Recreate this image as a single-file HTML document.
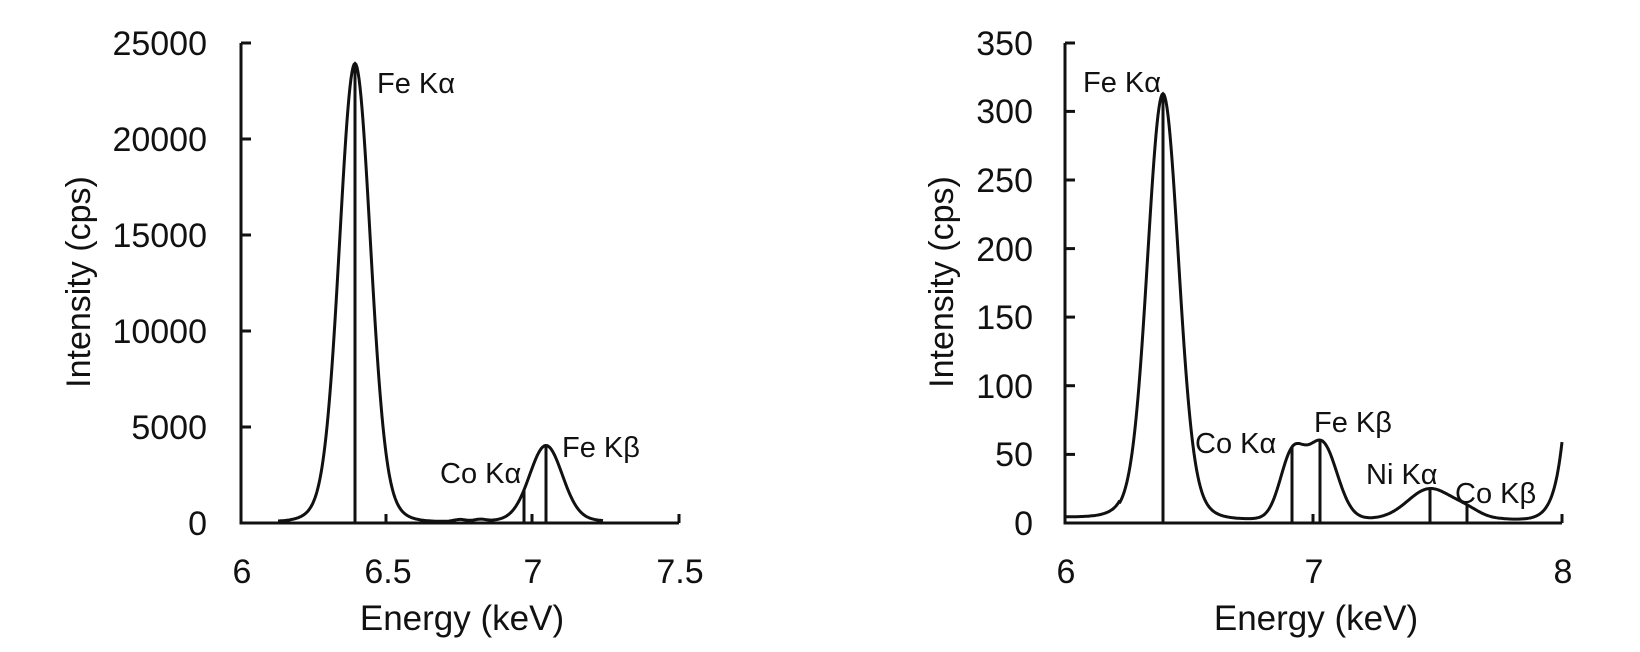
<!DOCTYPE html>
<html><head><meta charset="utf-8">
<style>
html,body{margin:0;padding:0;background:#fff;}
svg{display:block;}
text{font-family:"Liberation Sans",Arial,sans-serif;fill:#111;}
</style></head>
<body>
<svg id="s" width="1640" height="652" viewBox="0 0 1640 652" xmlns="http://www.w3.org/2000/svg">
<g stroke="#111" stroke-width="3" fill="none" id="axes">
<polyline points="241,43 241,523 679,523"/>
<line x1="241" y1="43" x2="251" y2="43"/>
<line x1="241" y1="139" x2="251" y2="139"/>
<line x1="241" y1="235" x2="251" y2="235"/>
<line x1="241" y1="331" x2="251" y2="331"/>
<line x1="241" y1="427" x2="251" y2="427"/>
<line x1="386" y1="523" x2="386" y2="514"/>
<line x1="532" y1="523" x2="532" y2="514"/>
<line x1="679" y1="523" x2="679" y2="514"/>
<polyline points="1065,43 1065,523 1562,523"/>
<line x1="1065" y1="111.4" x2="1075" y2="111.4"/>
<line x1="1065" y1="180" x2="1075" y2="180"/>
<line x1="1065" y1="248.6" x2="1075" y2="248.6"/>
<line x1="1065" y1="317.1" x2="1075" y2="317.1"/>
<line x1="1065" y1="385.7" x2="1075" y2="385.7"/>
<line x1="1065" y1="454.4" x2="1075" y2="454.4"/>
<line x1="1065" y1="43" x2="1075" y2="43"/>
<line x1="1313" y1="523" x2="1313" y2="514"/>
<line x1="1562" y1="523" x2="1562" y2="514"/>
</g>
<g font-size="34" text-anchor="end">
<text x="207" y="55">25000</text>
<text x="207" y="151">20000</text>
<text x="207" y="247">15000</text>
<text x="207" y="343">10000</text>
<text x="207" y="439">5000</text>
<text x="207" y="535">0</text>
<text x="1033" y="55">350</text>
<text x="1033" y="123">300</text>
<text x="1033" y="192">250</text>
<text x="1033" y="261">200</text>
<text x="1033" y="329">150</text>
<text x="1033" y="398">100</text>
<text x="1033" y="466">50</text>
<text x="1033" y="535">0</text>
</g>
<g font-size="34" text-anchor="middle">
<text x="242" y="583">6</text>
<text x="388" y="583">6.5</text>
<text x="533" y="583">7</text>
<text x="680" y="583">7.5</text>
<text x="1066" y="583">6</text>
<text x="1314" y="583">7</text>
<text x="1563" y="583">8</text>
<text x="462" y="630" font-size="35">Energy (keV)</text>
<text x="1316" y="630" font-size="35">Energy (keV)</text>
<text transform="translate(90,282) rotate(-90)">Intensity (cps)</text>
<text transform="translate(953,282) rotate(-90)">Intensity (cps)</text>
</g>
<g font-size="29">
<text x="377" y="93">Fe Kα</text>
<text x="562" y="457">Fe Kβ</text>
<text x="440" y="483">Co Kα</text>
<text x="1083" y="92">Fe Kα</text>
<text x="1195" y="453">Co Kα</text>
<text x="1314" y="432">Fe Kβ</text>
<text x="1366" y="484">Ni Kα</text>
<text x="1455" y="503">Co Kβ</text>
</g>
<g id="curves" stroke="#111" stroke-width="3" fill="none"></g>
</svg>
<script>
(function(){
var g=document.getElementById('curves');
function G(x,c,a,s){return a*Math.exp(-(x-c)*(x-c)/(2*s*s));}
function L(x){
 var h=G(x,355,420,15)+G(x,355,38,26)+G(x,546,70,16)+G(x,546,6,28)+1.5;
 h+=G(x,460,2,6)+G(x,480,2,6);
 return h;
}
function R(x){
 var b = x<1120?4.5:(x<1500?3:3-(x-1500)/30);
 if(b<1)b=1;
 var v=b+G(x,1163,280,15)+G(x,1163,30,26)+G(x,1292,45,12)+G(x,1322,55,15)+G(x,1430,22,22)+G(x,1467,5,14)+58*Math.exp((x-1562)/9);
 return v;
}
var ns='http://www.w3.org/2000/svg';
function path(d){var p=document.createElementNS(ns,'path');p.setAttribute('d',d);g.appendChild(p);}
var d='';
for(var x=278;x<=603;x+=1){d+=(x==278?'M':'L')+x+','+(523-L(x)).toFixed(1);}
path(d);
[355,524,546].forEach(function(x){path('M'+x+',523L'+x+','+(523-L(x)).toFixed(1));});
var k=480/350;
d='';
for(var x=1065;x<=1562;x+=1){d+=(x==1065?'M':'L')+x+','+(523-R(x)*k).toFixed(1);}
path(d);
[1163,1292,1320,1430,1467].forEach(function(x){path('M'+x+',523L'+x+','+(523-R(x)*k).toFixed(1));});
})();
</script>
</body></html>
